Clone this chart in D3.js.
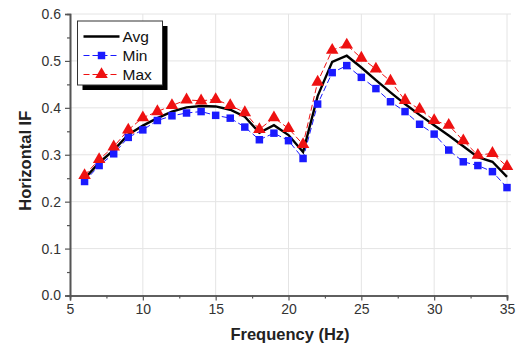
<!DOCTYPE html>
<html>
<head>
<meta charset="utf-8">
<script src="https://cdn.jsdelivr.net/npm/d3@7"></script>
<style>
  html, body { margin: 0; padding: 0; background: #fff; }
  svg { display: block; font-family: "Liberation Sans", Arial, sans-serif; }
</style>
</head>
<body>
<div id="chart"></div>
<script>
// Horizontal IF vs frequency – avg / min / max curves
const freqs = d3.range(6, 36);

const avgValues = [0.249, 0.283, 0.310, 0.343, 0.362, 0.378, 0.392, 0.401, 0.404, 0.403,
                   0.396, 0.381, 0.347, 0.363, 0.342, 0.306, 0.425, 0.498, 0.511, 0.486,
                   0.459, 0.433, 0.408, 0.385, 0.363, 0.341, 0.318, 0.295, 0.285, 0.253];
const minValues = [0.243, 0.277, 0.302, 0.337, 0.353, 0.373, 0.383, 0.389, 0.392, 0.384,
                   0.378, 0.359, 0.332, 0.346, 0.330, 0.292, 0.408, 0.475, 0.490, 0.465,
                   0.441, 0.413, 0.392, 0.365, 0.344, 0.310, 0.285, 0.277, 0.264, 0.230];
const maxValues = [0.256, 0.290, 0.317, 0.353, 0.379, 0.392, 0.405, 0.417, 0.415, 0.418,
                   0.405, 0.390, 0.354, 0.379, 0.356, 0.322, 0.455, 0.523, 0.534, 0.506,
                   0.483, 0.457, 0.416, 0.397, 0.373, 0.363, 0.330, 0.299, 0.303, 0.275];

const xTicks = [5, 10, 15, 20, 25, 30, 35];
const yTicks = [0.0, 0.1, 0.2, 0.3, 0.4, 0.5, 0.6];

const W = 520, H = 349;
const plotL = 70, plotR = 507, plotT = 14, plotB = 295.5;
const gridRight = 511;

const svg = d3.select('#chart').append('svg')
  .attr('width', W)
  .attr('height', H);

const x = d3.scaleLinear().domain([5, 35]).range([plotL, plotR]);
const y = d3.scaleLinear().domain([0, 0.6]).range([plotB, plotT]);

// grid
const grid = svg.append('g').attr('stroke', '#e4e4e4').attr('stroke-width', 1);
grid.selectAll('.vg').data(xTicks.slice(1))
  .join('line')
  .attr('x1', d => x(d)).attr('x2', d => x(d))
  .attr('y1', plotT).attr('y2', plotB);
grid.selectAll('.hg').data(yTicks.slice(1))
  .join('line')
  .attr('x1', plotL).attr('x2', gridRight)
  .attr('y1', d => y(d)).attr('y2', d => y(d));

// axes
const xAxis = svg.append('g')
  .attr('transform', `translate(0,${plotB})`)
  .call(d3.axisBottom(x).tickValues(xTicks).tickFormat(d3.format('d')).tickSize(5).tickPadding(4));
const xMinor = svg.append('g')
  .attr('transform', `translate(0,${plotB})`)
  .call(d3.axisBottom(x).tickValues(d3.range(7.5, 35, 5)).tickFormat('').tickSize(3));
const yAxis = svg.append('g')
  .attr('transform', `translate(${plotL},0)`)
  .call(d3.axisLeft(y).tickValues(yTicks).tickFormat(d3.format('.1f')).tickSize(5).tickPadding(4));
const yMinor = svg.append('g')
  .attr('transform', `translate(${plotL},0)`)
  .call(d3.axisLeft(y).tickValues(d3.range(0.05, 0.6, 0.1)).tickFormat('').tickSize(3));

[xAxis, xMinor, yAxis, yMinor].forEach(g => {
  g.select('.domain').attr('stroke', '#555').attr('stroke-width', 1.6);
  g.selectAll('.tick line').attr('stroke', '#555').attr('stroke-width', 1.2);
  g.selectAll('.tick text').attr('fill', '#333').style('font-size', '14px');
});

// axis titles
svg.append('text')
  .attr('x', 290).attr('y', 340)
  .attr('text-anchor', 'middle')
  .style('font-size', '16.5px').style('font-weight', 'bold')
  .attr('fill', '#222')
  .text('Frequency (Hz)');

svg.append('text')
  .attr('transform', `translate(31,${(plotT + plotB) / 2 + 6}) rotate(-90)`)
  .attr('text-anchor', 'middle')
  .style('font-size', '16.5px').style('font-weight', 'bold')
  .attr('fill', '#222')
  .text('Horizontal IF');

// series
const series = [
  { name: 'Avg', values: avgValues, color: '#000', width: 2.4, dash: null, marker: null },
  { name: 'Min', values: minValues, color: '#1a1aff', width: 1, dash: '6,3', marker: 'square' },
  { name: 'Max', values: maxValues, color: '#ee1111', width: 1, dash: '6,3', marker: 'triangle' }
];

const lineGen = d3.line().x(d => x(d.f)).y(d => y(d.v));
const symbolOf = m => m === 'square'
  ? d3.symbol().type(d3.symbolSquare).size(56)
  : d3.symbol().type(d3.symbolTriangle).size(68);

// min/max lines, then avg, then markers
const plot = svg.append('g');
[series[1], series[2], series[0]].forEach(s => {
  const pts = freqs.map((f, i) => ({ f, v: s.values[i] }));
  plot.append('path')
    .datum(pts)
    .attr('fill', 'none')
    .attr('stroke', s.color)
    .attr('stroke-width', s.width)
    .attr('stroke-dasharray', s.dash)
    .attr('d', lineGen);
});
[series[1], series[2]].forEach(s => {
  const pts = freqs.map((f, i) => ({ f, v: s.values[i] }));
  plot.append('g').selectAll('path')
    .data(pts)
    .join('path')
    .attr('transform', d => `translate(${x(d.f)},${y(d.v)})`)
    .attr('d', symbolOf(s.marker))
    .attr('fill', s.color);
});

// legend with shadow
const lg = svg.append('g').attr('transform', 'translate(77.5,21)');
lg.append('rect').attr('x', 5).attr('y', 5).attr('width', 85).attr('height', 64).attr('fill', '#000');
lg.append('rect').attr('width', 85).attr('height', 64).attr('fill', '#fff')
  .attr('stroke', '#333').attr('stroke-width', 1);

series.forEach((s, i) => {
  const row = lg.append('g').attr('transform', `translate(0,${15.5 + i * 19})`);
  row.append('line')
    .attr('x1', 6).attr('x2', 42)
    .attr('stroke', s.color).attr('stroke-width', s.width)
    .attr('stroke-dasharray', s.dash);
  if (s.marker) {
    row.append('path').attr('transform', 'translate(24,0)')
      .attr('d', symbolOf(s.marker)).attr('fill', s.color);
  }
  row.append('text')
    .attr('x', 45).attr('y', 5.5)
    .style('font-size', '15.5px')
    .attr('fill', '#111')
    .text(s.name);
});
</script>
</body>
</html>
